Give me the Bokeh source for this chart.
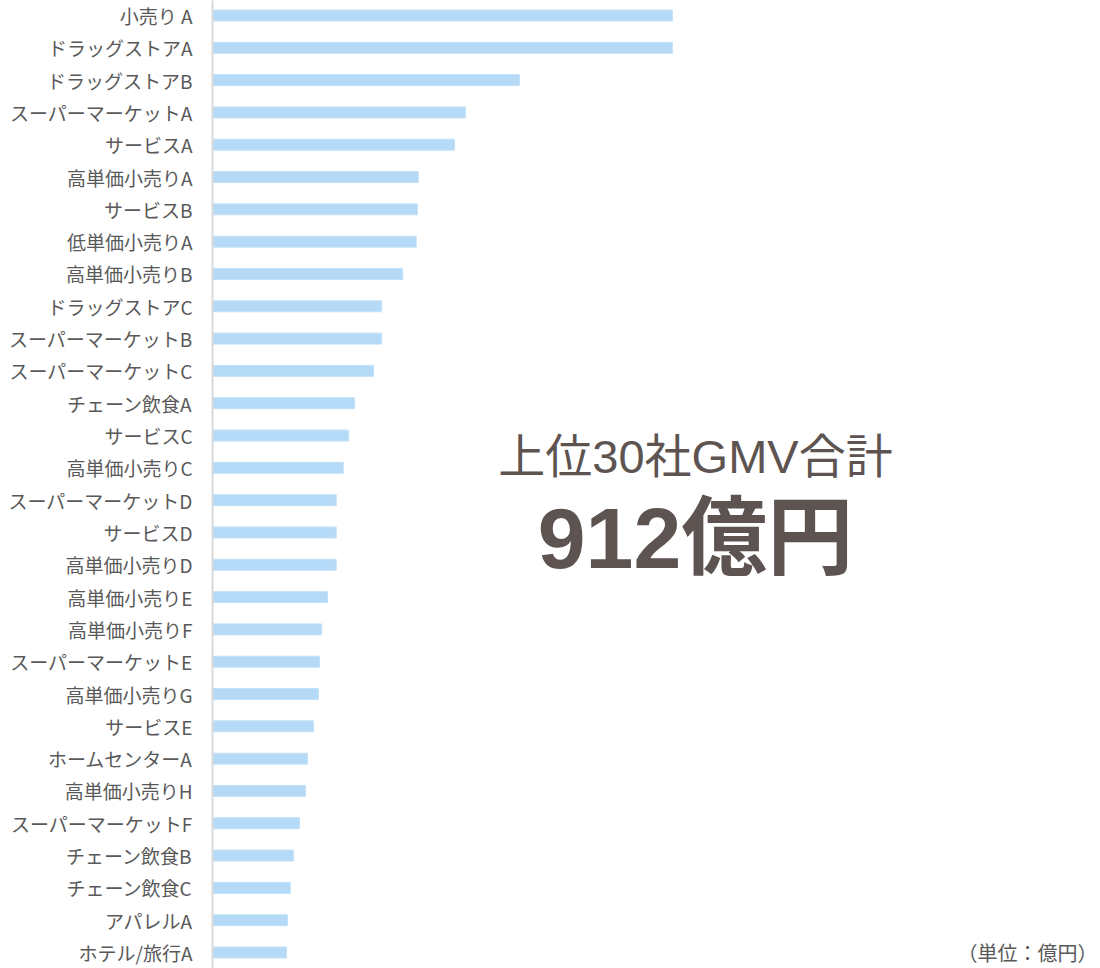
from bokeh.plotting import figure
from bokeh.models import Range1d, Label, ColumnDataSource, FixedTicker
from bokeh.embed import file_html
from bokeh.resources import INLINE

categories = ["小売り A", "ドラッグストアA", "ドラッグストアB", "スーパーマーケットA", "サービスA",
              "高単価小売りA", "サービスB", "低単価小売りA", "高単価小売りB", "ドラッグストアC",
              "スーパーマーケットB", "スーパーマーケットC", "チェーン飲食A", "サービスC", "高単価小売りC",
              "スーパーマーケットD", "サービスD", "高単価小売りD", "高単価小売りE", "高単価小売りF",
              "スーパーマーケットE", "高単価小売りG", "サービスE", "ホームセンターA", "高単価小売りH",
              "スーパーマーケットF", "チェーン飲食B", "チェーン飲食C", "アパレルA", "ホテル/旅行A"]
gmv = [85.1, 85.1, 56.8, 46.8, 44.8,
       38.1, 37.9, 37.7, 35.2, 31.3,
       31.3, 29.8, 26.3, 25.2, 24.2,
       22.9, 22.9, 22.9, 21.3, 20.2,
       19.8, 19.6, 18.7, 17.6, 17.2,
       16.1, 15.0, 14.4, 13.9, 13.7]
title_text = "上位30社GMV合計"
total_text = "912億円"
unit_text = "（単位：億円）"

rank = list(range(len(categories)))
src = ColumnDataSource(dict(rank=rank, gmv=gmv, cat=categories))

W, H = 1100, 968
LEFT = 212
xmax = (W - LEFT) * 0.18506
row_px = 32.31
top_off = 15 / row_px
bot_val = 29 + 16 / row_px

p = figure(width=W, height=H, output_backend="svg", toolbar_location=None,
           x_range=Range1d(0, xmax), y_range=Range1d(bot_val, -top_off),
           min_border_left=LEFT, min_border_right=0, min_border_top=0, min_border_bottom=0)
p.hbar(y="rank", right="gmv", left=0, height=0.34, source=src,
       fill_color="#b4daf7", line_color="#c4e2f9", line_width=1)

p.xaxis.visible = False
p.xgrid.visible = False
p.ygrid.visible = False
p.outline_line_color = None
yax = p.yaxis[0]
yax.ticker = FixedTicker(ticks=rank)
yax.major_label_overrides = {i: c for i, c in zip(rank, categories)}
yax.major_tick_line_color = None
yax.minor_tick_line_color = None
yax.axis_line_color = "#d9d9d9"
yax.axis_line_width = 2
yax.major_label_standoff = 14
yax.major_label_text_font = "Noto Sans CJK JP"
yax.major_label_text_font_size = "19px"
yax.major_label_text_color = "#595959"

cx = (695 - LEFT) * 0.18506
p.add_layout(Label(x=cx, y=13.65, text=title_text, text_align="center", text_baseline="middle",
                   text_font="Liberation Sans, Noto Sans CJK JP", text_font_size="47px",
                   text_color="#5d5452"))
p.add_layout(Label(x=cx, y=16.16, text=total_text, text_align="center", text_baseline="middle",
                   text_font="Liberation Sans, Noto Sans CJK JP", text_font_size="86px",
                   text_font_style="bold", text_color="#5d5452"))
p.add_layout(Label(x=xmax, x_offset=-3, y=29, text=unit_text, text_align="right", text_baseline="middle",
                   text_font="Noto Sans CJK JP", text_font_size="20px", text_color="#595959"))

open("out.html", "w").write(file_html(p, INLINE))
